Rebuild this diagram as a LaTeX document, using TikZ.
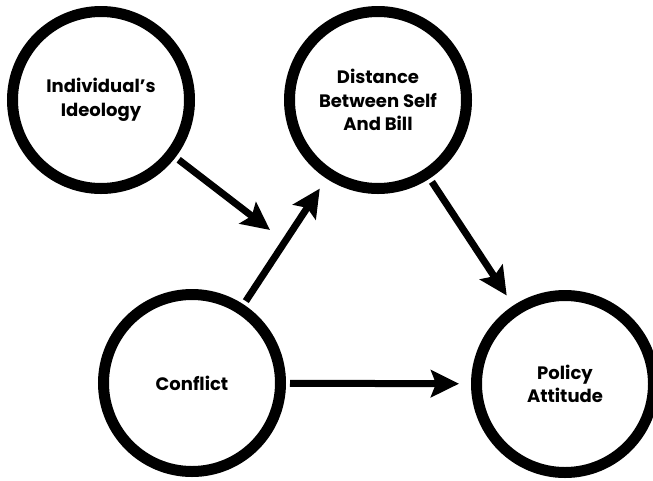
\documentclass[tikz,border=0pt]{standalone}
\usepackage{fontspec}
\setmainfont{Poppins}
\usetikzlibrary{arrows.meta}
\begin{document}
\begin{tikzpicture}[x=1pt,y=-1pt,
  circ/.style={circle,draw,line width=11pt,minimum size=177pt,inner sep=0pt,
    align=center,font=\fontsize{18}{23.5}\selectfont\bfseries},
  link/.style={line width=7pt,-{Stealth[length=28pt,width=27pt,inset=5pt]},
    shorten <=4pt,shorten >=12pt}]
\useasboundingbox (0,0) rectangle (653,480);
\node[circ] (ideo) at (101,100) {Individual's\\Ideology};
\node[circ] (dist) at (378,100) {Distance\\Between Self\\And Bill};
\node[circ] (conf) at (192,383) {Conflict};
\node[circ] (pol) at (565,384) {Policy\\Attitude};
\coordinate (mod) at (270,230);
\draw[link,shorten >=0pt] (ideo) -- (mod);
\draw[link] (conf) -- (dist);
\draw[link] (dist) -- (pol);
\draw[link] (conf) -- (pol);
\end{tikzpicture}
\end{document}
